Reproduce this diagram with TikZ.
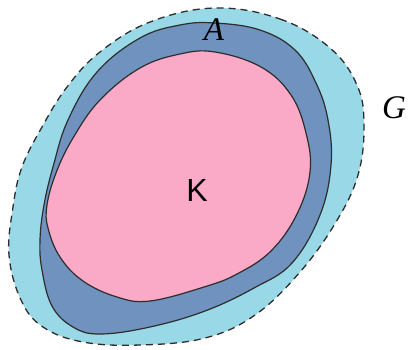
\documentclass[tikz,border=0pt]{standalone}
\usepackage{fontspec}
\setmainfont{Liberation Serif}
\newfontfamily\ksans{Liberation Sans}
\definecolor{gblue}{RGB}{153,216,231}
\definecolor{ablue}{RGB}{111,146,190}
\definecolor{kpink}{RGB}{250,170,198}
\definecolor{edge}{RGB}{45,45,45}
\begin{document}
\begin{tikzpicture}[x=1pt,y=-1pt,
  region/.style={draw=edge,line width=1.2pt},
  lab/.style={inner sep=0pt,font=\fontsize{33}{35}\selectfont\itshape}]
\useasboundingbox (0,0) rectangle (409,349);
\filldraw[region,fill=gblue,line width=1.3pt,dash pattern=on 7pt off 5pt] plot[smooth cycle,tension=0.65] coordinates {
(215,8) (280,19) (330,48) (357,85) (364,125) (358,175) (336,222) (300,272) (255,315) (205,338) (140,345) (83,342) (43,327) (21,300) (9,255) (13,207) (22,167) (42,127) (67,87) (100,52) (150,22)};
\filldraw[region,fill=ablue] plot[smooth cycle,tension=0.65] coordinates {
(215,23) (260,30) (295,50) (316,83) (328,120) (331,165) (320,215) (292,263) (254,288) (205,311) (150,327) (100,334) (73,327) (52,306) (42,270) (40,240) (44,205) (53,167) (68,120) (97,72) (140,38) (180,25)};
\filldraw[region,fill=kpink] plot[smooth cycle,tension=0.65] coordinates {
(215,52) (261,67) (291,95) (306,133) (310,172) (297,214) (271,251) (237,274) (204,287) (150,301) (117,297) (83,281) (60,257) (48,228) (47,205) (56,173) (73,138) (100,100) (140,68) (180,54)};
\node[lab] (A) at (214,30) {A};
\node[lab] (G) at (394,108) {G};
\node[inner sep=0pt,font=\ksans\fontsize{32}{34}\selectfont] (K) at (197,190) {K};
\end{tikzpicture}
\end{document}
